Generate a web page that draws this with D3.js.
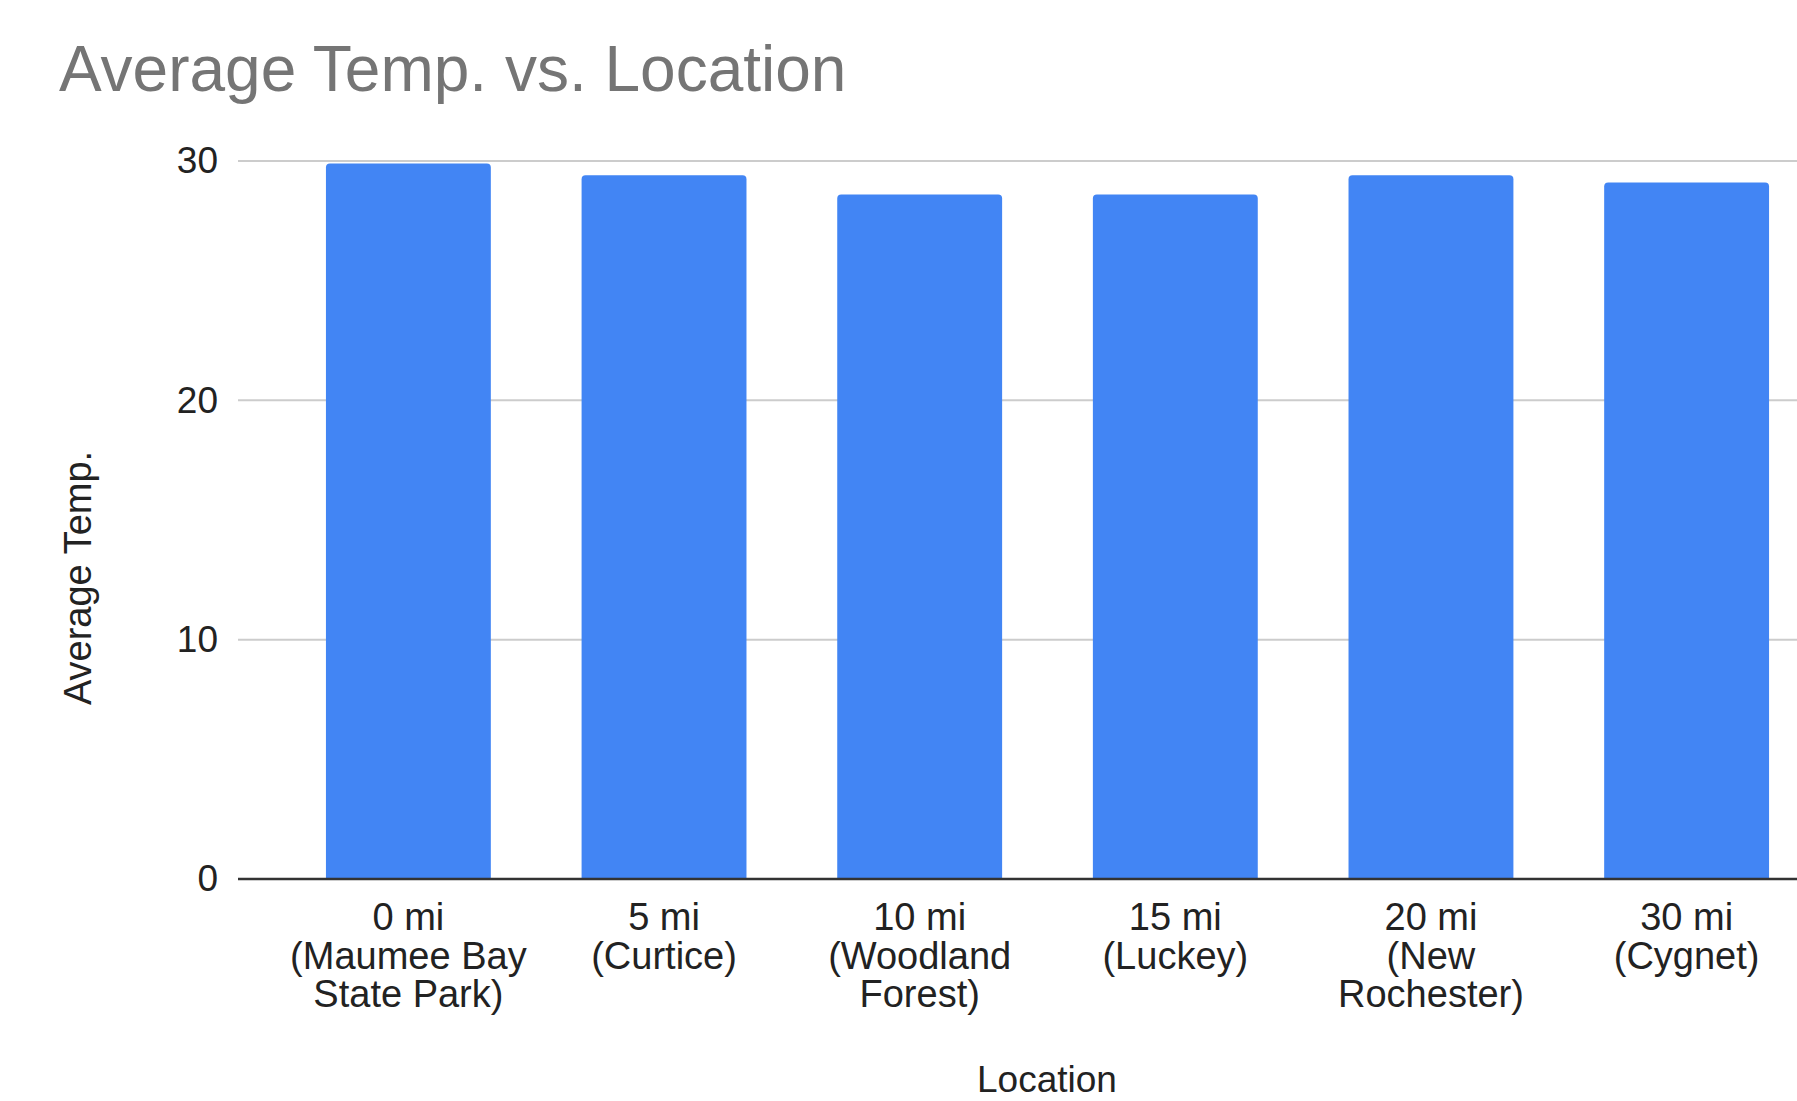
<!DOCTYPE html>
<html>
<head>
<meta charset="utf-8">
<script src="https://cdn.jsdelivr.net/npm/d3@7"></script>
<style>
  html, body { margin: 0; padding: 0; background: #fff; overflow: hidden; }
  svg { display: block; font-family: "Liberation Sans", Arial, Helvetica, sans-serif; }
</style>
</head>
<body>
<svg id="chart" width="1797" height="1101"></svg>
<script>
// Category labels (line breaks split into stacked lines under each bar)
const locations = [
  "0 mi\n(Maumee Bay\nState Park)",
  "5 mi\n(Curtice)",
  "10 mi\n(Woodland\nForest)",
  "15 mi\n(Luckey)",
  "20 mi\n(New\nRochester)",
  "30 mi\n(Cygnet)"
];
// Average temperature at each location
const avgTemp = [29.9, 29.4, 28.6, 28.6, 29.4, 29.1];
// Y axis ticks
const yTicks = [0, 10, 20, 30];

const W = 1797, H = 1101;
const svg = d3.select("#chart");

const plot = { left: 238, right: 1857, top: 161, bottom: 879 };

const x = d3.scaleBand()
  .domain(locations)
  .range([plot.left, plot.right])
  .paddingInner(0.355)
  .paddingOuter(0.344);

const y = d3.scaleLinear()
  .domain([0, 30])
  .range([plot.bottom, plot.top]);

// Title
svg.append("text")
  .attr("x", 59)
  .attr("y", 91)
  .attr("fill", "#757575")
  .attr("font-size", 64)
  .text("Average Temp. vs. Location");

// Horizontal gridlines
svg.append("g")
  .selectAll("line")
  .data(yTicks.filter(d => d !== 0))
  .join("line")
  .attr("x1", plot.left)
  .attr("x2", W)
  .attr("y1", d => y(d))
  .attr("y2", d => y(d))
  .attr("stroke", "#cccccc")
  .attr("stroke-width", 2);

// Y axis tick labels
const yAxis = svg.append("g")
  .attr("transform", `translate(${plot.left},0)`)
  .call(d3.axisLeft(y).tickValues(yTicks).tickSize(0).tickPadding(20));
yAxis.select(".domain").remove();
yAxis.selectAll("text")
  .attr("font-size", 37)
  .attr("font-family", "Liberation Sans, Arial, sans-serif")
  .attr("fill", "#222");

// Bars with slightly rounded top corners
const r = 4;
svg.append("g")
  .selectAll("path")
  .data(avgTemp)
  .join("path")
  .attr("fill", "#4285f4")
  .attr("d", (d, i) => {
    const x0 = x(locations[i]), w = x.bandwidth();
    const yt = y(d), yb = y(0);
    return `M${x0},${yb} V${yt + r} Q${x0},${yt} ${x0 + r},${yt} H${x0 + w - r} Q${x0 + w},${yt} ${x0 + w},${yt + r} V${yb} Z`;
  });

// Baseline
svg.append("line")
  .attr("x1", plot.left)
  .attr("x2", W)
  .attr("y1", y(0))
  .attr("y2", y(0))
  .attr("stroke", "#333")
  .attr("stroke-width", 2.5);

// X axis category labels
const xAxis = svg.append("g")
  .attr("transform", `translate(0,${plot.bottom})`)
  .call(d3.axisBottom(x).tickSize(0).tickFormat(""));
xAxis.select(".domain").remove();
xAxis.selectAll(".tick").each(function (d) {
  const lines = d.split("\n");
  const t = d3.select(this).append("text")
    .attr("text-anchor", "middle")
    .attr("fill", "#222")
    .attr("font-size", 38)
    .attr("font-family", "Liberation Sans, Arial, sans-serif");
  lines.forEach((ln, k) => {
    t.append("tspan")
      .attr("x", 0)
      .attr("y", 51 + k * 38.5)
      .text(ln);
  });
});

// Axis titles
svg.append("text")
  .attr("transform", `translate(91,578) rotate(-90)`)
  .attr("text-anchor", "middle")
  .attr("font-size", 38)
  .attr("fill", "#222")
  .text("Average Temp.");

svg.append("text")
  .attr("x", 1047)
  .attr("y", 1092)
  .attr("text-anchor", "middle")
  .attr("font-size", 37)
  .attr("fill", "#222")
  .text("Location");
</script>
</body>
</html>
